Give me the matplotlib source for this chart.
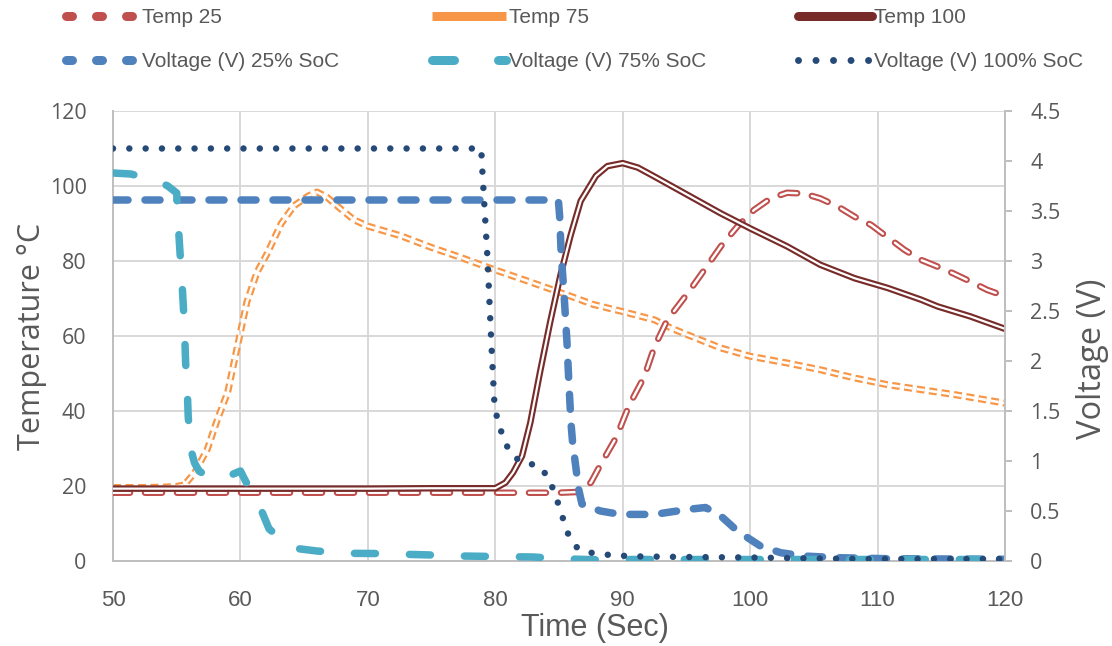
import matplotlib
matplotlib.use("Agg")
import matplotlib.pyplot as plt
from matplotlib.lines import Line2D

# ---------------- data ----------------
t25_x = [50, 55, 60, 65, 70, 75, 80, 85, 86.4, 87.5, 88.2, 89.5, 90.5, 91.7, 92.5, 93.5, 95.1,
         96.4, 97.7, 99, 100.3, 101.6, 102.9, 104.2, 105.5, 106.9, 108.2, 109.5, 110.8, 112.1,
         113.4, 115, 116, 117.3, 118.6, 120]
t25_y = [18.2, 18.2, 18.2, 18.2, 18.2, 18.2, 18.2, 18.2, 18.4, 20.9, 25.3, 33, 41.5, 49.2, 57.2,
         64.3, 71.4, 77.6, 83.9, 89.2, 93.6, 96.7, 98.2, 98, 96.7, 94.5, 91.8, 89.6, 86.3, 83,
         80.3, 78.1, 76.6, 74.5, 72.3, 70.6]

t75_x = [50, 52, 54, 55, 55.6, 56.4, 57.4, 58.2, 59, 59.5, 60, 60.5, 61.3, 62.1, 63.2, 64.2,
         65.3, 66, 66.8, 67.9, 68.9, 70, 72.6, 75, 77.25, 80, 82.5, 85.1, 87.7, 90, 92.5, 93.8,
         95.1, 97.7, 100, 102.9, 105.5, 108.2, 110.8, 113.4, 116, 120]
t75_y = [19.6, 19.6, 19.7, 19.9, 20.3, 23.5, 29.8, 37.8, 45, 53, 61, 69, 77, 82, 90, 94.7,
         97.3, 98.4, 97, 93.8, 91, 89.3, 86.7, 83.6, 81, 77.6, 74.7, 71.6, 68.4, 66.5, 64.3, 62.1,
         60.3, 56.8, 54.6, 52.8, 51, 48.8, 47, 45.7, 44.4, 42.1]

t100_x = [50, 60, 70, 75, 80, 80.8, 81.4, 82.1, 82.75, 83.5, 84.3, 85.1, 85.9, 86.7, 87.9, 88.8,
          90, 91.2, 92.5, 95.1, 97.7, 100, 102.9, 105.5, 108.2, 110.8, 113.4, 114.7, 117.3, 120]
t100_y = [19.3, 19.3, 19.3, 19.4, 19.4, 20.9, 23.6, 28, 36.9, 50.2, 63.6, 76, 86.7, 96, 102.7,
          105.3, 106.1, 104.9, 102.5, 97.6, 92.7, 88.7, 83.9, 79, 75.4, 72.8, 69.7, 67.9, 65.2,
          61.9]

v25_x = [50, 60, 70, 80, 84.95, 85.05, 85.18, 85.37, 85.63, 85.76, 85.94, 86.07, 86.28, 86.54,
         86.8, 88.25, 89.8, 92.5, 95.1, 96.5, 97.7, 99, 100.8, 102.4, 104.2, 106.9, 110.8, 120]
v25_y = [3.61, 3.61, 3.61, 3.61, 3.61, 3.45, 3.05, 2.72, 2.18, 1.82, 1.38, 1.18, 0.98, 0.72,
         0.57, 0.5, 0.466, 0.466, 0.516, 0.535, 0.45, 0.30, 0.15, 0.083, 0.05, 0.033, 0.023, 0.017]

v75_x = [50, 51.4, 53.5, 54.3, 55.0, 55.13, 55.24, 55.4, 55.52, 55.63, 55.7, 55.84, 55.9, 56.1,
         56.4, 56.75, 57.5, 58.7, 60.0, 60.4, 61.5, 62.25, 64.1, 66, 68.4, 70.5, 75, 77.25, 80,
         83, 85, 88, 90, 100, 110, 120]
v75_y = [3.88, 3.87, 3.80, 3.75, 3.68, 3.35, 3.12, 2.82, 2.55, 2.25, 1.98, 1.68, 1.45, 1.12,
         0.98, 0.9, 0.84, 0.83, 0.9, 0.8, 0.55, 0.32, 0.13, 0.1, 0.077, 0.075, 0.06, 0.05, 0.045,
         0.04, 0.023, 0.012, 0.015, 0.015, 0.015, 0.015]

v100_x = [50, 60, 70, 78.9, 78.95, 79.4, 79.69, 79.95, 80.26, 80.65, 81.18, 82.1, 83.3, 84.1,
          84.6, 85.0, 85.4, 85.8, 86.5, 87.7, 89.0, 90.3, 91.5, 95, 100, 105, 110, 115, 120]
v100_y = [4.125, 4.125, 4.125, 4.125, 3.98, 3.0, 2.18, 1.53, 1.38, 1.22, 1.08, 0.98, 0.96, 0.85,
          0.70, 0.55, 0.39, 0.24, 0.12, 0.077, 0.06, 0.05, 0.045, 0.04, 0.035, 0.025, 0.02, 0.02,
          0.02]

x_ticks = [50, 60, 70, 80, 90, 100, 110, 120]
temp_ticks = [0, 20, 40, 60, 80, 100, 120]
volt_ticks = [0, 0.5, 1, 1.5, 2, 2.5, 3, 3.5, 4, 4.5]
volt_labels = ["0", "0.5", "1", "1.5", "2", "2.5", "3", "3.5", "4", "4.5"]

labels = ["Temp 25", "Temp 75", "Temp 100",
          "Voltage (V) 25% SoC", "Voltage (V) 75% SoC", "Voltage (V) 100% SoC"]

C_T25 = "#C0504D"
C_T75 = "#F79646"
C_T100 = "#772C2A"
C_V25 = "#4F81BD"
C_V75 = "#4BACC6"
C_V100 = "#264A78"

# ---------------- styling ----------------
plt.rcParams["lines.scale_dashes"] = False
PX = 0.72  # points per pixel at dpi 100
GRAY_TXT = "#595959"
GRID = "#D9D9D9"
AXLINE = "#BFBFBF"
NARROW = ["Liberation Sans", "DejaVu Sans"]
WIDE = ["Open Sans", "DejaVu Sans"]


def d(*v):
    return [x * PX for x in v]


fig = plt.figure(figsize=(11.12, 6.46), dpi=100)
ax = fig.add_axes([113 / 1112, 1 - 561 / 646, (1005 - 113) / 1112, (561 - 111) / 646])
ax2 = ax.twinx()

ax.set_xlim(50, 120)
ax.set_ylim(0, 120)
ax2.set_ylim(0, 4.5)
ax.set_xticks(x_ticks)
ax.set_yticks(temp_ticks)
ax2.set_yticks(volt_ticks)
ax2.set_yticklabels(volt_labels)

ax.set_axisbelow(True)
ax.grid(True, color=GRID, lw=2 * PX)
for s in ["top", "right"]:
    ax.spines[s].set_visible(False)
for s in ["left", "bottom"]:
    ax.spines[s].set_color(AXLINE)
    ax.spines[s].set_linewidth(2 * PX)
for s in ["top", "left", "bottom"]:
    ax2.spines[s].set_visible(False)
ax2.spines["right"].set_color(AXLINE)
ax2.spines["right"].set_linewidth(2 * PX)

ax.tick_params(axis="y", length=0, pad=19, labelsize=15.5, labelcolor=GRAY_TXT)
ax.tick_params(axis="x", length=0, pad=21, labelsize=16, labelcolor=GRAY_TXT)
ax2.tick_params(axis="y", length=7 * PX, width=2 * PX, color=AXLINE, pad=13,
                labelsize=15.5, labelcolor=GRAY_TXT)
for lab in ax.get_yticklabels() + ax2.get_yticklabels():
    lab.set_family(WIDE)
for lab in ax.get_xticklabels():
    lab.set_family(NARROW)

ax.set_xlabel("Time (Sec)", fontsize=22, color=GRAY_TXT, family=NARROW)
ax.xaxis.set_label_coords(0.54, -0.148)
ax.xaxis.label.set_va("center")
ax.set_ylabel("Temperature \u00b0C", fontsize=22, color=GRAY_TXT, family=WIDE, labelpad=2)
ax2.set_ylabel("Voltage (V)", fontsize=23.5, color=GRAY_TXT, family=WIDE)
ax2.yaxis.set_label_coords(1.098, 0.449)
ax2.yaxis.label.set_va("center")


def double_line(axis, x, y, color, outer, inner, dashes=None, cap="butt", z=2):
    kw = {}
    if dashes is not None:
        kw["dashes"] = dashes
    axis.plot(x, y, color=color, lw=outer * PX, solid_capstyle=cap, dash_capstyle=cap,
              solid_joinstyle="round", dash_joinstyle="round", zorder=z, **kw)
    axis.plot(x, y, color="white", lw=inner * PX, solid_capstyle=cap, dash_capstyle=cap,
              solid_joinstyle="round", dash_joinstyle="round", zorder=z + 0.01, **kw)


double_line(ax, t75_x, t75_y, C_T75, 7, 2.6, dashes=d(8, 4.5), cap="butt", z=2)
double_line(ax, t25_x, t25_y, C_T25, 6.5, 2.4, dashes=d(17, 15), cap="round", z=3)
double_line(ax, t100_x, t100_y, C_T100, 6.5, 2.2, dashes=None, cap="round", z=4)

ax2.plot(v25_x, v25_y, color=C_V25, lw=7.5 * PX, dashes=d(15, 17), dash_capstyle="round",
         dash_joinstyle="round", zorder=2)
ax2.plot(v75_x, v75_y, color=C_V75, lw=7.5 * PX, dashes=d(21, 34), dash_capstyle="round",
         dash_joinstyle="round", zorder=3)
ax2.plot(v100_x, v100_y, color=C_V100, lw=6.5 * PX, dashes=d(0.01, 16.3),
         dash_capstyle="round", dash_joinstyle="round", zorder=4)

# ---------------- legend ----------------
LW = 9 * PX
h_t25 = Line2D([], [], color=C_T25, lw=LW, dashes=d(6, 24), dash_capstyle="round")
h_t75 = Line2D([], [], color=C_T75, lw=LW, solid_capstyle="butt")
h_t100 = Line2D([], [], color=C_T100, lw=LW, solid_capstyle="round")
h_v25 = Line2D([], [], color=C_V25, lw=LW, dashes=d(6, 24), dash_capstyle="round")
h_v75 = Line2D([], [], color=C_V75, lw=LW, dashes=d(22, 44), dash_capstyle="round")
h_v100 = Line2D([], [], color=C_V100, lw=7 * PX, dashes=d(0.01, 17.5), dash_capstyle="round")

cols = [([h_t25, h_v25], [labels[0], labels[3]], 66),
        ([h_t75, h_v75], [labels[1], labels[4]], 432),
        ([h_t100, h_v100], [labels[2], labels[5]], 798)]
LEG_FS = 15
for hs, ls, xpx in cols:
    fig.legend(hs, ls, loc="upper left", bbox_to_anchor=(xpx / 1112, 1 - 8 / 646),
               frameon=False, borderaxespad=0, borderpad=0,
               prop={"family": NARROW, "size": LEG_FS},
               labelcolor=GRAY_TXT, handlelength=74 / (LEG_FS / PX),
               handletextpad=0.12, labelspacing=1.2)

fig.savefig("out.png", dpi=100)
